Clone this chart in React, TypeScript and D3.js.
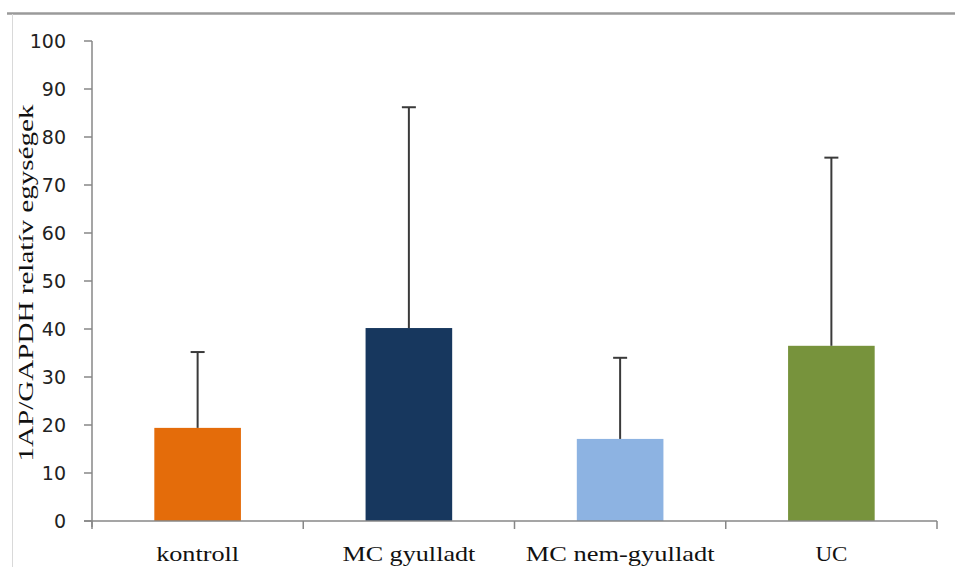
import React from "react";
import * as d3 from "d3";

const categories = ["kontroll", "MC gyulladt", "MC nem-gyulladt", "UC"];
const means = [19.4, 40.2, 17.1, 36.5];
const errorUpper = [15.8, 46.0, 16.9, 39.2];
const barColors = ["#E46C0A", "#17375E", "#8DB3E2", "#77933C"];
const yTicks = [0, 10, 20, 30, 40, 50, 60, 70, 80, 90, 100];
const yTitle = "1AP/GAPDH relatív egységek";
const labelWidths = [83, 133, 189, 32];

const W = 955;
const H = 578;
const plot = { left: 92, right: 937, top: 41, bottom: 521 };

export default function App() {
  const x = d3
    .scaleBand<string>()
    .domain(categories)
    .range([plot.left, plot.right])
    .paddingInner(0.59)
    .paddingOuter(0.295);
  const band = d3.scaleBand<string>().domain(categories).range([plot.left, plot.right]);
  const y = d3.scaleLinear().domain([0, 100]).range([plot.bottom, plot.top]);
  const axisColor = "#878787";
  const bounds = [...categories.map((c) => band(c)!), plot.right];

  return (
    <svg
      width={W}
      height={H}
      style={{ position: "absolute", left: 0, top: 0, background: "#fff" }}
    >
      {/* frame */}
      <line x1={7} x2={W} y1={13.5} y2={13.5} stroke="#9a9a9a" strokeWidth={2.5} />
      <line x1={12.5} x2={12.5} y1={14} y2={567} stroke="#d9d9d9" strokeWidth={1} />

      {/* bars */}
      {categories.map((c, i) => (
        <rect
          key={c}
          x={x(c)}
          y={y(means[i])}
          width={x.bandwidth()}
          height={y(0) - y(means[i])}
          fill={barColors[i]}
        />
      ))}

      {/* error bars (upper only) */}
      {categories.map((c, i) => {
        const cx = x(c)! + x.bandwidth() / 2;
        const top = y(means[i] + errorUpper[i]);
        return (
          <g key={c} stroke="#3a3a3a" strokeWidth={2}>
            <line x1={cx} x2={cx} y1={y(means[i])} y2={top} />
            <line x1={cx - 7} x2={cx + 7} y1={top} y2={top} />
          </g>
        );
      })}

      {/* y axis */}
      <line x1={plot.left} x2={plot.left} y1={y(100)} y2={plot.bottom + 6} stroke={axisColor} strokeWidth={1.5} />
      {yTicks.map((t) => (
        <g key={t}>
          <line x1={plot.left - 8} x2={plot.left} y1={y(t)} y2={y(t)} stroke={axisColor} strokeWidth={1.5} />
          <text
            x={66}
            y={y(t)}
            dy="0.36em"
            textAnchor="end"
            fontFamily="DejaVu Sans"
            fontSize={19}
            fill="#222"
          >
            {t}
          </text>
        </g>
      ))}

      {/* x axis */}
      <line x1={plot.left - 8} x2={plot.right} y1={plot.bottom} y2={plot.bottom} stroke={axisColor} strokeWidth={1.5} />
      {bounds.map((b, i) => (
        <line key={i} x1={b} x2={b} y1={plot.bottom} y2={plot.bottom + 8} stroke={axisColor} strokeWidth={1.5} />
      ))}
      {categories.map((c, i) => (
        <text
          key={c}
          x={x(c)! + x.bandwidth() / 2}
          y={561}
          textAnchor="middle"
          fontFamily="Liberation Serif"
          fontSize={21}
          fill="#111"
          textLength={labelWidths[i]}
          lengthAdjust="spacingAndGlyphs"
        >
          {c}
        </text>
      ))}

      {/* y title */}
      <text
        transform={`translate(33, 283) rotate(-90)`}
        textAnchor="middle"
        fontFamily="Liberation Serif"
        fontSize={21}
        fill="#111"
        textLength={357}
        lengthAdjust="spacingAndGlyphs"
      >
        {yTitle}
      </text>
    </svg>
  );
}
